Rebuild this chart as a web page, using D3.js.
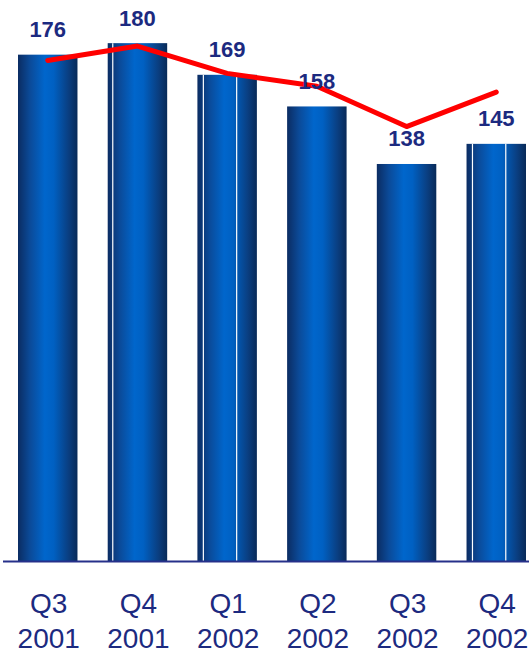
<!DOCTYPE html>
<html>
<head>
<meta charset="utf-8">
<script src="https://cdn.jsdelivr.net/npm/d3@7"></script>
<style>
  html, body { margin: 0; padding: 0; background: #fff; }
  svg { display: block; }
</style>
</head>
<body>
<svg id="chart" width="529" height="655"></svg>
<script>
const quarters = ["Q3", "Q4", "Q1", "Q2", "Q3", "Q4"];
const years = ["2001", "2001", "2002", "2002", "2002", "2002"];
const barValues = [176, 180, 169, 158, 138, 145];
const lineValues = [174, 179, 169.5, 165, 151, 163];
// thin light seams visible inside some bars (fraction of bar width)
const seams = [[], [0.085], [0.1, 0.66], [], [], [0.1, 0.66]];

const svg = d3.select("#chart");
const W = 529, baseY = 561;

const x = d3.scaleBand()
  .domain(d3.range(barValues.length))
  .range([18, 526])
  .paddingInner(0.337)
  .paddingOuter(0);

const y = d3.scaleLinear().domain([0, 195]).range([baseY, 0]);

const defs = svg.append("defs");
const grad = defs.append("linearGradient")
  .attr("id", "barGrad").attr("x1", "0%").attr("x2", "100%").attr("y1", "0%").attr("y2", "0%");
[[0, "#0b2c62"], [0.2, "#0b4a98"], [0.45, "#0066cc"], [0.6, "#0060c2"], [0.85, "#0a3e80"], [1, "#082a58"]]
  .forEach(([o, c]) => grad.append("stop").attr("offset", o).attr("stop-color", c));

const bars = svg.append("g").selectAll("g.bar")
  .data(barValues)
  .join("g").attr("class", "bar");

bars.append("rect")
  .attr("x", (d, i) => x(i))
  .attr("y", d => y(d))
  .attr("width", x.bandwidth())
  .attr("height", d => baseY - y(d))
  .attr("fill", "url(#barGrad)");

bars.each(function (d, i) {
  d3.select(this).selectAll("line.seam")
    .data(seams[i])
    .join("line").attr("class", "seam")
    .attr("x1", f => x(i) + f * x.bandwidth())
    .attr("x2", f => x(i) + f * x.bandwidth())
    .attr("y1", y(d))
    .attr("y2", baseY)
    .attr("stroke", "#ffffff")
    .attr("stroke-width", 1.2);
});

// axis baseline
svg.append("line")
  .attr("x1", 3).attr("x2", W)
  .attr("y1", baseY + 0.5).attr("y2", baseY + 0.5)
  .attr("stroke", "#26308a").attr("stroke-width", 2);

// red line
const line = d3.line()
  .x((d, i) => x(i) + x.bandwidth() / 2)
  .y(d => y(d));
svg.append("path")
  .datum(lineValues)
  .attr("d", line)
  .attr("fill", "none")
  .attr("stroke", "#ff0000")
  .attr("stroke-width", 5)
  .attr("stroke-linecap", "round")
  .attr("stroke-linejoin", "round");

// value labels
svg.append("g").selectAll("text")
  .data(barValues)
  .join("text")
  .attr("x", (d, i) => x(i) + x.bandwidth() / 2)
  .attr("y", d => y(d) - 17.5)
  .attr("text-anchor", "middle")
  .attr("font-family", "Liberation Sans, Arial, sans-serif")
  .attr("font-weight", "bold")
  .attr("font-size", 22)
  .attr("fill", "#1c2a80")
  .text(d => d);

// category labels
const cat = svg.append("g").selectAll("text")
  .data(quarters)
  .join("text")
  .attr("x", (d, i) => x(i) + x.bandwidth() / 2 + 1)
  .attr("text-anchor", "middle")
  .attr("font-family", "Liberation Sans, Arial, sans-serif")
  .attr("font-size", 28)
  .attr("fill", "#1c2a80");
cat.append("tspan").attr("y", 613).attr("x", (d, i) => x(i) + x.bandwidth() / 2 + 1).text(d => d);
cat.append("tspan").attr("y", 648).attr("x", (d, i) => x(i) + x.bandwidth() / 2 + 1).text((d, i) => years[i]);
</script>
</body>
</html>
